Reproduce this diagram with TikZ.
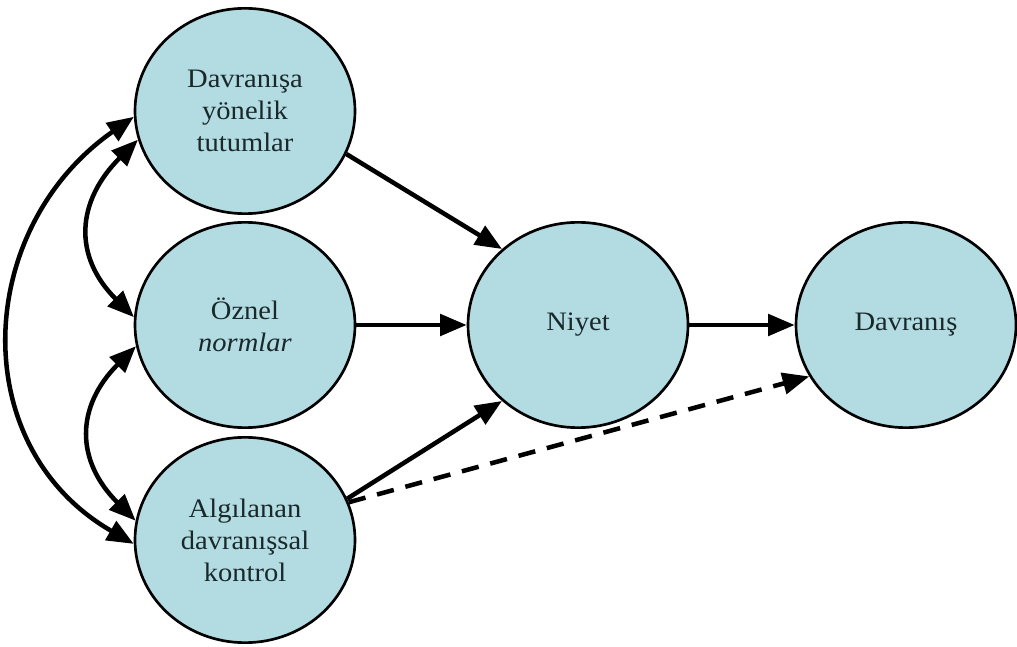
\documentclass[tikz,border=0pt]{standalone}
\usepackage{fontspec}
\setmainfont{Liberation Serif}[FakeStretch=1.07]
\usetikzlibrary{shapes.geometric,arrows.meta}
\definecolor{bubblefill}{RGB}{179,220,226}
\definecolor{ink}{RGB}{25,40,42}
\begin{document}
\begin{tikzpicture}[x=0.75pt,y=0.75pt,
  bubble/.style={ellipse,draw=black,line width=2pt,fill=bubblefill,
    minimum width=165pt,minimum height=154pt,inner sep=0pt,align=center,
    font=\fontsize{20}{24}\selectfont,text=ink},
  link/.style={line width=3.4pt,-{Triangle[length=20pt,width=16pt]}},
  both/.style={line width=3.4pt,{Triangle[length=20pt,width=16pt]}-{Triangle[length=20pt,width=16pt]}},
  dashlink/.style={link,dash pattern=on 13pt off 9pt},
]
\useasboundingbox (0,0) rectangle (1017,646);
\fill[white] (0,0) rectangle (1017,646);

\node[bubble] (t) at (245,535) {Davranışa\\yönelik\\tutumlar};
\node[bubble] (m) at (245,321) {Öznel\\\textit{normlar}};
\node[bubble] (b) at (245,106) {Algılanan\\davranışsal\\kontrol};
\node[bubble] (n) at (578,321) {Niyet};
\node[bubble] (d) at (906,321) {Davranış};

\draw[link] (t.-23) -- (n.135);
\draw[link] (m.east) -- (n.west);
\draw[link] (b.22) -- (n.225);
\draw[link] (n.east) -- (d.west);
\draw[dashlink] (b.20) -- (d.208);

\draw[both] (t.195) to[out=225,in=135,looseness=1.25] (m.176);
\draw[both] (m.191) to[out=225,in=135,looseness=1.25] (b.170);
\draw[both] (t.183) to[out=215,in=150,looseness=1.17] (b.182);
\end{tikzpicture}
\end{document}
